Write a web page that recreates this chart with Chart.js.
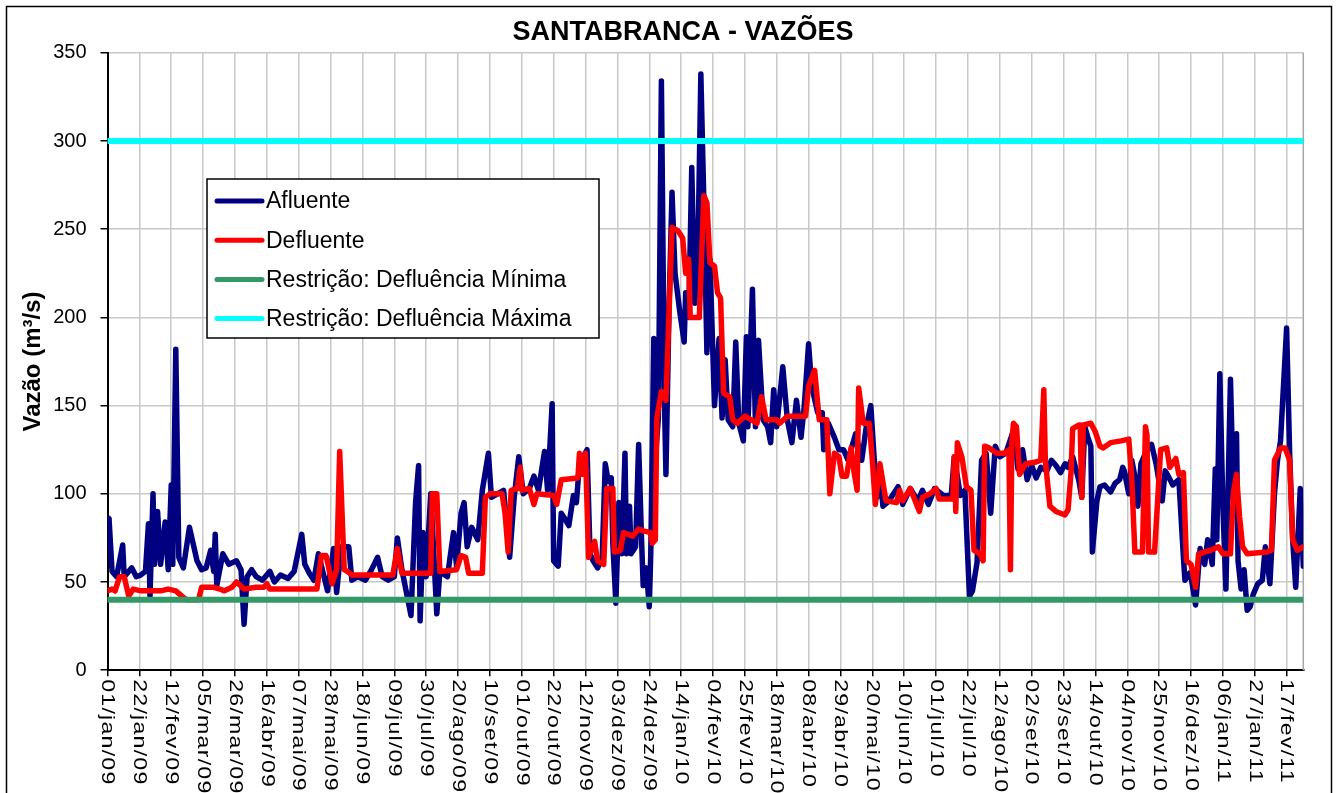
<!DOCTYPE html>
<html>
<head>
<meta charset="utf-8">
<title>Santa Branca - Vazões</title>
<script src="https://cdn.jsdelivr.net/npm/chart.js@4.4.1/dist/chart.umd.min.js"></script>
<style>
  html, body { margin: 0; padding: 0; background: #fff; }
</style>
</head>
<body>
<canvas id="vazoes-chart" width="1338" height="793"></canvas>
<script>
// dias contados a partir de 01/jan/09
var rotulosX = ['01/jan/09', '22/jan/09', '12/fev/09', '05/mar/09', '26/mar/09', '16/abr/09', '07/mai/09',
    '28/mai/09', '18/jun/09', '09/jul/09', '30/jul/09', '20/ago/09', '10/set/09', '01/out/09', '22/out/09',
    '12/nov/09', '03/dez/09', '24/dez/09', '14/jan/10', '04/fev/10', '25/fev/10', '18/mar/10', '08/abr/10',
    '29/abr/10', '20/mai/10', '10/jun/10', '01/jul/10', '22/jul/10', '12/ago/10', '02/set/10', '23/set/10',
    '14/out/10', '04/nov/10', '25/nov/10', '16/dez/10', '06/jan/11', '27/jan/11', '17/fev/11'];
var passoDias = 21;
var ultimoDia = 788;

var defluenciaMinima = 40;
var defluenciaMaxima = 300;

// [dia, vazão m3/s]
var afluente = [
    [0, 85], [1, 86], [3, 56], [6, 53], [10, 71], [11, 53], [16, 58], [19, 53], [22, 54], [25, 56], [27, 83], [28, 42],
    [30, 100], [31, 60], [33, 90], [35, 60], [38, 84], [40, 57], [42, 105], [43, 60], [45, 182], [47, 64], [50, 58],
    [54, 81], [59, 62], [62, 57], [65, 58], [68, 68], [70, 56], [71, 77], [72, 48], [76, 66], [80, 60], [85, 62],
    [88, 57], [90, 26], [92, 53], [95, 57], [98, 53],
    [102, 51], [107, 56], [110, 50], [114, 54], [119, 52], [123, 56], [128, 77], [130, 60], [133, 55], [136, 51],
    [139, 66], [141, 59], [145, 45], [149, 69], [151, 44], [154, 70], [159, 70], [161, 51], [165, 53], [170, 51],
    [174, 57], [178, 64], [181, 53], [185, 51], [189, 53], [191, 75], [194, 57], [200, 31], [203, 95],
    [205, 116], [206, 28], [208, 78], [210, 53], [213, 100], [217, 32], [219, 56], [224, 53], [228, 78], [230, 59],
    [233, 89], [235, 95], [237, 70], [240, 81], [244, 74], [247, 102], [251, 123], [253, 98], [261, 102], [265, 64],
    [268, 98], [271, 121], [274, 100], [278, 103], [281, 110], [284, 102], [288, 124], [290, 102], [293, 151],
    [294, 62], [297, 59], [299, 89], [302, 85],
    [304, 82], [307, 99], [309, 95], [311, 117], [316, 125], [318, 66], [320, 62], [323, 58], [326, 64], [328, 117],
    [330, 107], [332, 109], [333, 72], [335, 38], [337, 95], [339, 66], [341, 123], [342, 66], [344, 93], [345, 66],
    [348, 70], [350, 128], [352, 72], [353, 48], [355, 58], [357, 36], [358, 66], [360, 188], [361, 119], [363, 143],
    [365, 334], [367, 153], [368, 111], [370, 204], [372, 271], [374, 225], [377, 204], [380, 186], [381, 214],
    [383, 200], [385, 285], [387, 208], [389, 233], [391, 338], [393, 265], [395, 180], [397, 233], [400, 150],
    [403, 188], [405, 143],
    [407, 176], [409, 142], [412, 138], [414, 186], [416, 140], [419, 130], [421, 189], [422, 138], [425, 216],
    [427, 138], [429, 187], [432, 142], [435, 138], [437, 129], [439, 159], [441, 138], [445, 172], [448, 142],
    [451, 129], [454, 153], [457, 132], [459, 148], [462, 185], [464, 161], [468, 146], [471, 146], [472, 125],
    [475, 140], [479, 132], [482, 125], [485, 125], [488, 119], [493, 134], [497, 119], [500, 138], [503, 150],
    [505, 123], [507, 98], [509, 111],
    [511, 93], [515, 96], [521, 104], [524, 94], [529, 103], [534, 96], [537, 102], [541, 94], [545, 103], [551, 99],
    [556, 99], [558, 121], [562, 99], [565, 102], [568, 42], [570, 45], [573, 61], [576, 119], [579, 123], [582, 89],
    [585, 127], [588, 121], [592, 123], [597, 136], [600, 114], [603, 125], [606, 108], [609, 116], [612, 109],
    [615, 115], [619, 113], [622, 119], [625, 116], [628, 112], [631, 117], [633, 115], [636, 121], [640, 108],
    [642, 98], [644, 138], [646, 132], [648, 127], [649, 67], [652, 96], [654, 104], [657, 105], [661, 101],
    [664, 106], [667, 108], [669, 115], [670, 113], [673, 100], [675, 119], [677, 110], [679, 93], [681, 117],
    [685, 125], [688, 128], [691, 117], [695, 96], [697, 113], [699, 110], [702, 105], [706, 108], [709, 64],
    [710, 51], [713, 55],
    [714, 53], [717, 37], [720, 69], [723, 60], [725, 74], [728, 60], [730, 114], [731, 74], [733, 168], [735, 93],
    [737, 46], [740, 165], [742, 97], [744, 134], [745, 62], [747, 46], [749, 57], [751, 34], [753, 36], [755, 43],
    [758, 49], [761, 51], [763, 70], [766, 49], [769, 100], [771, 119], [773, 130], [777, 194], [779, 123], [781, 74],
    [783, 47], [786, 103], [788, 59]
];

var defluente = [
    [0, 45], [3, 46], [5, 45], [8, 53], [11, 53], [14, 42], [17, 46], [22, 45], [28, 45], [35, 45], [40, 46], [45, 45],
    [49, 42], [52, 40], [60, 40], [62, 47], [66, 47], [70, 47], [74, 46], [77, 45], [82, 47], [85, 50], [90, 46],
    [98, 47],
    [103, 47], [105, 49], [107, 46], [138, 46], [141, 65], [144, 65], [148, 49], [151, 57], [153, 124], [156, 57],
    [158, 56], [161, 54], [188, 54], [191, 69], [194, 55], [213, 55],
    [214, 100], [217, 100], [219, 56], [230, 57], [233, 65], [236, 64], [238, 55], [247, 55], [249, 98], [252, 100],
    [260, 100], [262, 89], [264, 67], [266, 102], [270, 103], [272, 115], [273, 102], [278, 103], [281, 94],
    [283, 100], [294, 99], [296, 94], [299, 108], [310, 109],
    [311, 123], [313, 111], [315, 123], [317, 64], [321, 73], [323, 62], [327, 60], [329, 103], [333, 103], [334, 67],
    [338, 68], [340, 78], [346, 76], [350, 80], [353, 79], [358, 78], [359, 72], [361, 74], [362, 143], [365, 158],
    [368, 153], [372, 251], [376, 249], [379, 245], [381, 225], [383, 233], [384, 200], [390, 200], [393, 269],
    [395, 265], [397, 231], [400, 229], [402, 214], [404, 211], [406, 157],
    [410, 155], [412, 142], [415, 140], [420, 144], [424, 142], [428, 140], [431, 155], [434, 142], [441, 142],
    [443, 140], [448, 144], [460, 144], [462, 161], [466, 170], [469, 142], [474, 142], [476, 100], [479, 123],
    [482, 121], [484, 110], [487, 110], [490, 126], [492, 112], [494, 102], [495, 160], [498, 140], [502, 140],
    [504, 119], [506, 94], [509, 117],
    [513, 96], [520, 95], [522, 102], [524, 96], [529, 103], [535, 90], [537, 98], [542, 100], [546, 103], [548, 97],
    [557, 97], [558, 121], [559, 90], [560, 129], [563, 121], [566, 104], [569, 102], [571, 68], [575, 66], [577, 62],
    [578, 127], [581, 126], [586, 123], [591, 123], [594, 125], [595, 57], [596, 130], [597, 140], [599, 138],
    [601, 111], [605, 117], [612, 118],
    [615, 119], [617, 159], [618, 119], [621, 93], [625, 90], [631, 88], [633, 91], [635, 113], [636, 137], [640, 139],
    [641, 139], [642, 98], [643, 139], [648, 140], [651, 135], [654, 127], [656, 126], [661, 129], [668, 130],
    [673, 131], [675, 108], [677, 67], [682, 67], [684, 138], [685, 133], [686, 67], [690, 67], [694, 125], [698, 126],
    [700, 115], [704, 120], [706, 111], [709, 112], [711, 62],
    [714, 60], [717, 47], [719, 66], [727, 68], [732, 70], [735, 66], [740, 66], [742, 101], [744, 111], [746, 87],
    [748, 70], [751, 66], [764, 67], [767, 68], [769, 119], [773, 126], [776, 126], [779, 119], [781, 74], [784, 68],
    [788, 70]
];

var fonte = '"Liberation Sans", Arial, sans-serif';
Chart.defaults.font.family = fonte;
Chart.defaults.color = '#000';

function pontos(serie) {
    return serie.map(function (p) { return { x: p[0], y: p[1] }; });
}

function constante(v) {
    return [{ x: 0, y: v }, { x: ultimoDia, y: v }];
}

// moldura, titulo, legenda e rotulos do eixo x (texto girado de cima para baixo)
var desenhoExtra = {
    id: 'desenhoExtra',
    beforeDraw: function (chart) {
        var ctx = chart.ctx;
        ctx.save();
        ctx.fillStyle = '#fff';
        ctx.fillRect(0, 0, chart.width, chart.height);
        ctx.strokeStyle = '#000';
        ctx.lineWidth = 1.5;
        ctx.strokeRect(6.5, 6.5, 1325, 820);
        ctx.restore();
    },
    beforeDatasetsDraw: function (chart) {
        var ctx = chart.ctx, a = chart.chartArea;
        ctx.save();
        ctx.strokeStyle = '#a6a6a6';
        ctx.lineWidth = 1.5;
        ctx.beginPath();
        ctx.moveTo(a.right, a.top);
        ctx.lineTo(a.right, a.bottom);
        ctx.stroke();
        ctx.restore();
    },
    afterDraw: function (chart) {
        var ctx = chart.ctx, eixoX = chart.scales.x;
        ctx.save();

        ctx.fillStyle = '#000';
        ctx.font = 'bold 27px ' + fonte;
        ctx.textAlign = 'center';
        ctx.textBaseline = 'middle';
        ctx.fillText('SANTABRANCA - VAZÕES', 683, 33);

        ctx.font = '19px ' + fonte;
        ctx.textAlign = 'left';
        ctx.letterSpacing = '1px';
        rotulosX.forEach(function (r, i) {
            ctx.save();
            ctx.translate(eixoX.getPixelForValue(i * passoDias), eixoX.top + 9);
            ctx.rotate(Math.PI / 2);
            ctx.scale(1.22, 1);
            ctx.fillText(r, 0, 0);
            ctx.restore();
        });
        ctx.letterSpacing = '0px';

        // legenda
        var bx = 207, by = 179, bw = 392, bh = 159;
        ctx.fillStyle = '#fff';
        ctx.fillRect(bx, by, bw, bh);
        ctx.strokeStyle = '#000';
        ctx.lineWidth = 1.5;
        ctx.strokeRect(bx, by, bw, bh);
        ctx.font = '23px ' + fonte;
        ctx.textBaseline = 'middle';
        ctx.lineCap = 'round';
        chart.data.datasets.forEach(function (ds, i) {
            var y = by + 22 + i * 39.2;
            ctx.strokeStyle = ds.borderColor;
            ctx.lineWidth = 5;
            ctx.beginPath();
            ctx.moveTo(bx + 10, y);
            ctx.lineTo(bx + 55, y);
            ctx.stroke();
            ctx.fillStyle = '#000';
            ctx.fillText(ds.label, bx + 59, y + 1);
        });
        ctx.restore();
    }
};

new Chart(document.getElementById('vazoes-chart'), {
    type: 'line',
    data: {
        datasets: [
            {
                label: 'Afluente',
                data: pontos(afluente),
                borderColor: '#000080',
                borderWidth: 5.5,
                order: 4
            },
            {
                label: 'Defluente',
                data: pontos(defluente),
                borderColor: '#ff0000',
                borderWidth: 5.5,
                order: 3
            },
            {
                label: 'Restrição: Defluência Mínima',
                data: constante(defluenciaMinima),
                borderColor: '#339966',
                borderWidth: 6,
                order: 2
            },
            {
                label: 'Restrição: Defluência Máxima',
                data: constante(defluenciaMaxima),
                borderColor: '#00ffff',
                borderWidth: 6,
                order: 1
            }
        ]
    },
    options: {
        responsive: false,
        animation: false,
        devicePixelRatio: 1,
        elements: {
            point: { radius: 0 },
            line: { tension: 0, borderJoinStyle: 'round', borderCapStyle: 'round' }
        },
        layout: { padding: { left: 8, right: 34.7, top: 52.8, bottom: 0 } },
        plugins: {
            legend: { display: false },
            tooltip: { enabled: false }
        },
        scales: {
            x: {
                type: 'linear',
                min: 0,
                max: ultimoDia,
                afterBuildTicks: function (scale) {
                    scale.ticks = rotulosX.map(function (r, i) { return { value: i * passoDias }; });
                },
                afterFit: function (scale) { scale.height = 122.8; },
                ticks: { display: false },
                grid: { color: '#c8c8c8', lineWidth: 1.5, tickColor: '#000', tickLength: 6, tickWidth: 1.5 },
                border: { color: '#000', width: 2 }
            },
            y: {
                min: 0,
                max: 350,
                afterFit: function (scale) { scale.width = 99.5; },
                ticks: { stepSize: 50, padding: 14, font: { size: 20 } },
                grid: { color: '#c8c8c8', lineWidth: 1.5, tickColor: '#000', tickLength: 7, tickWidth: 1.5 },
                border: { color: '#000', width: 2 },
                title: {
                    display: true,
                    text: 'Vazão (m³/s)',
                    font: { size: 24, weight: 'bold' },
                    padding: { top: 11, bottom: 0 }
                }
            }
        }
    },
    plugins: [desenhoExtra]
});
</script>
</body>
</html>
